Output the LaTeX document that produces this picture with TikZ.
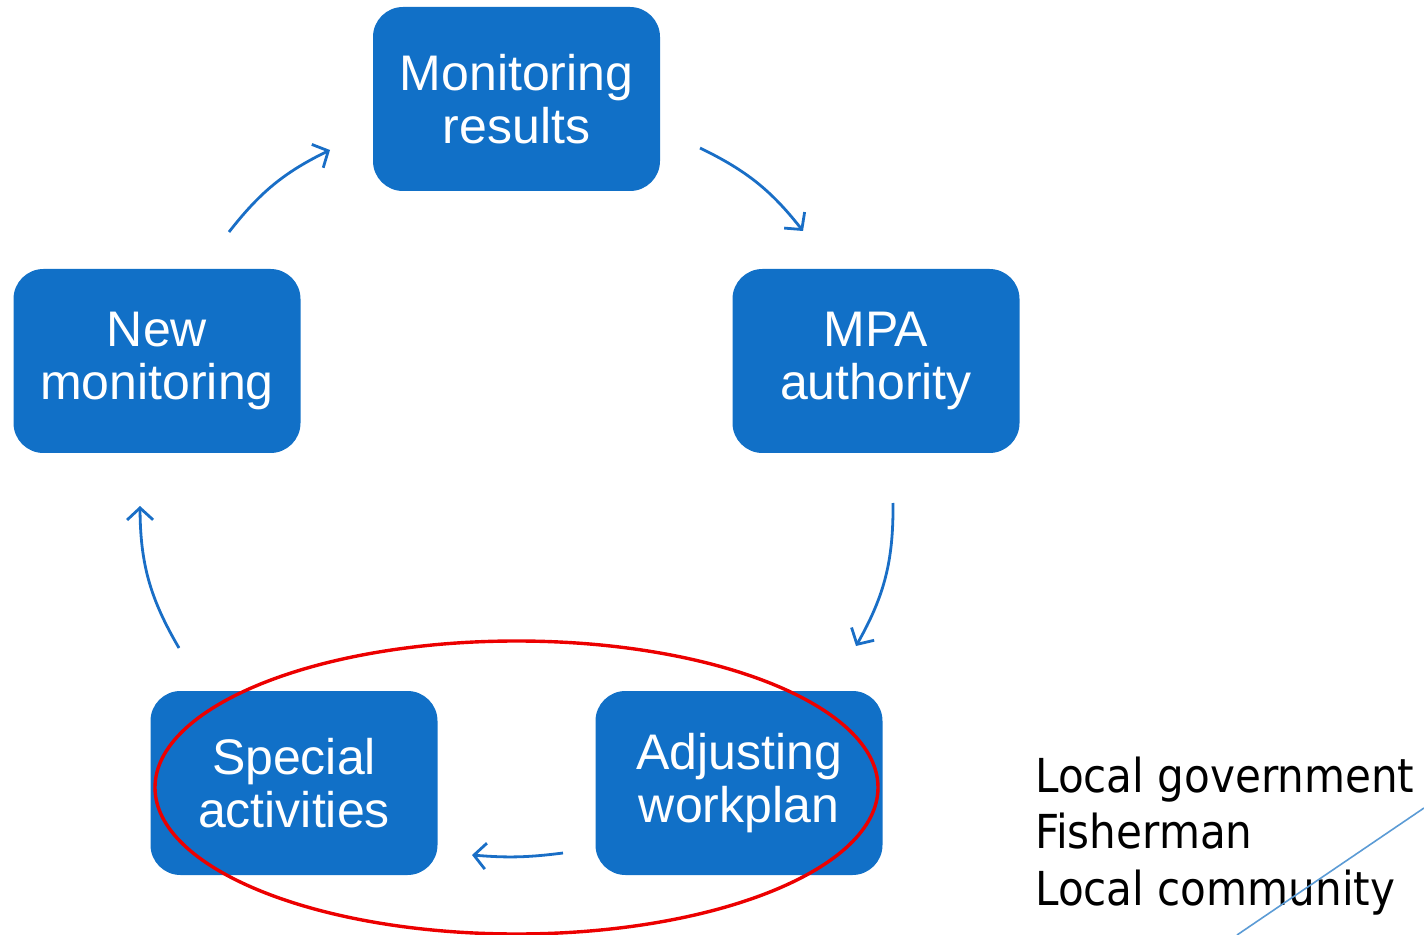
\documentclass[tikz,border=0pt]{standalone}
\usepackage{fontspec}
\setmainfont{Liberation Sans}
\newfontfamily\sidefont{DejaVu Sans Condensed}
\usetikzlibrary{arrows.meta}
\definecolor{boxblue}{RGB}{17,112,199}
\definecolor{arrowblue}{RGB}{25,110,198}
\definecolor{ringred}{RGB}{236,0,0}
\definecolor{lineblue}{RGB}{91,155,213}
\begin{document}
\begin{tikzpicture}[x=0.5pt,y=-0.5pt,
  box/.style={fill=boxblue, rounded corners=15pt, minimum width=143.5pt, minimum height=92pt,
    text=white, font=\fontsize{25}{26.5}\selectfont, align=center, inner sep=0pt},
  flow/.style={draw=arrowblue, line width=1.4pt, -{Straight Barb[length=6pt,width=13pt]}}]
\useasboundingbox (0,0) rectangle (1424,935);
\node[box] (mr)  at (516.5,99) {Monitoring\\results};
\node[box] (nm)  at (157,361)   {New\\monitoring};
\node[box] (mpa) at (876,361)   {MPA\\authority};
\node[box] (sa)  at (294,783)   {Special\\activities};
\node[box] (aw)  at (739,783)   {Adjusting\\workplan};
% arrow end points
\coordinate (a1s) at (229,232); \coordinate (a1e) at (330,150);
\coordinate (a2s) at (700,148); \coordinate (a2e) at (803,231);
\coordinate (a3s) at (893,503); \coordinate (a3e) at (856,646);
\coordinate (a4s) at (563,853); \coordinate (a4e) at (472,855);
\coordinate (a5s) at (179,648); \coordinate (a5e) at (140,506);
\draw[flow] (a1s) to[bend left=13] (a1e);
\draw[flow] (a2s) to[bend left=13] (a2e);
\draw[flow] (a3s) to[bend left=15] (a3e);
\draw[flow] (a4s) to[bend left=6] (a4e);
\draw[flow] (a5s) to[bend left=15] (a5e);
\draw[ringred, line width=1.7pt] (516.5,787.5) ellipse [x radius=361.5, y radius=146.5];
\node[anchor=base west, align=left, inner sep=0pt,
  font=\sidefont\fontsize{23.4}{28.25}\selectfont] (st) at (1035,905)
  {Local government\\Fisherman\\Local community};
\coordinate (l1) at (1237,935); \coordinate (l2) at (1424,808);
\draw[lineblue, line width=0.8pt] (l1) -- (l2);
\end{tikzpicture}
\end{document}
